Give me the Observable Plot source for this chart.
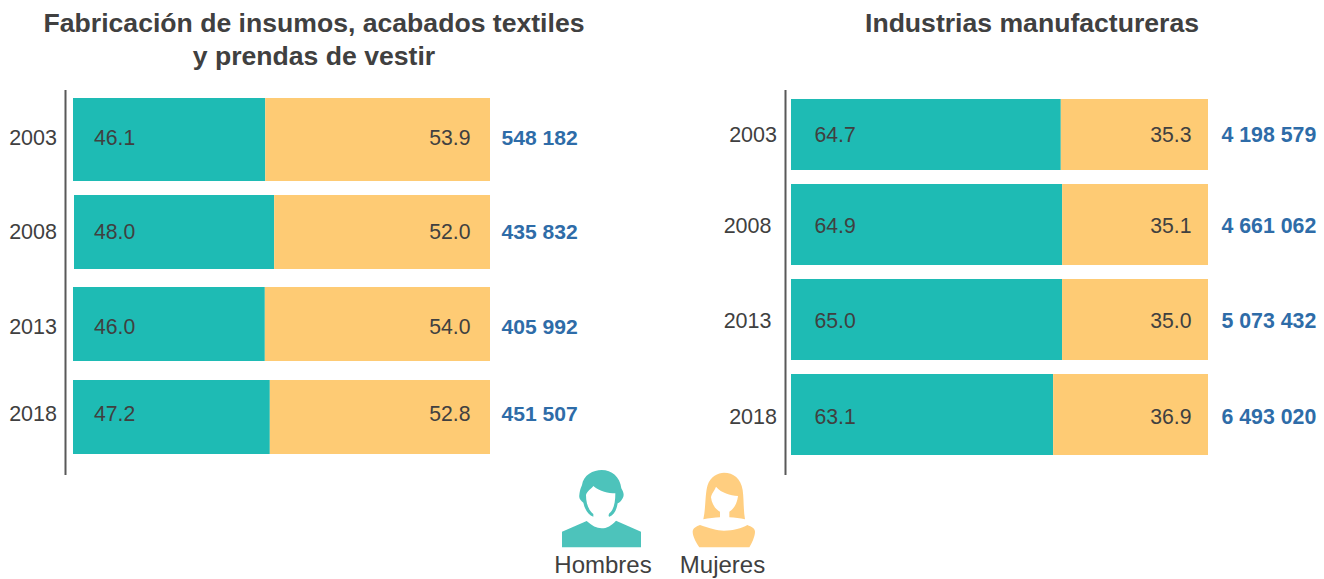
<!DOCTYPE html>
<html lang="es">
<head>
<meta charset="utf-8">
<script src="https://cdn.jsdelivr.net/npm/d3@7"></script>
<script src="https://cdn.jsdelivr.net/npm/@observablehq/plot@0.6"></script>
<style>
  html, body { margin: 0; padding: 0; background: #fff; overflow: hidden; }
  #page { position: relative; width: 1324px; height: 579px; font-family: "Liberation Sans", Arial, sans-serif; color: #404040; }
  #page > svg, #page > figure { position: absolute; top: 0; margin: 0; }
  .title { position: absolute; font-weight: bold; font-size: 26.6px; line-height: 33px; text-align: center; white-space: nowrap; transform: translateX(-50%); }
  .legend-label { position: absolute; top: 551px; font-size: 24px; line-height: 28px; transform: translateX(-50%); white-space: nowrap; }
</style>
</head>
<body>
<div id="page">
  <div class="title" style="left:314px;top:7px">Fabricación de insumos, acabados textiles<br>y prendas de vestir</div>
  <div class="title" style="left:1032px;top:7px">Industrias manufactureras</div>
  <svg id="icons" style="left:540px;top:460px" width="240" height="119" viewBox="0 0 720 357">
    <g fill="#4DC3BB">
      <path d="M118 105C120 90 122 85 126 75C130 45 160 30 185 30C215 30 240 50 244 85C250 95 254 105 248 115C243 125 238 128 233 130C230 150 222 165 208 170C205 168 205 165 208 160C222 150 226 125 226 100C205 100 180 95 160 78C155 85 140 95 138 105C138 130 145 150 160 162L160 170C145 165 135 150 130 128C122 122 116 115 118 105Z"/>
      <path d="M66 215L140 183C155 197 170 205 185 205C200 205 215 197 228 182L303 215L303 262L66 262Z"/>
    </g>
    <g fill="#FFCE80">
      <path d="M490 178C498 140 495 100 503 75C510 50 535 38 552 38C580 38 603 55 608 90C612 120 610 150 615 178C600 175 585 172 568 172L568 155C585 145 592 125 594 108C570 105 545 100 528 80C522 95 515 100 513 112C515 130 525 148 540 155L540 172C525 172 505 175 490 178Z"/>
      <path d="M480 195C510 205 530 212 552 212C580 212 605 205 622 195C635 200 645 205 645 215C645 230 635 250 628 262L478 262C470 250 458 230 458 215C458 205 470 198 480 195Z"/>
    </g>
  </svg>
  <div class="legend-label" style="left:603px">Hombres</div>
  <div class="legend-label" style="left:722.5px">Mujeres</div>
</div>
<script>
const years = ["2003", "2008", "2013", "2018"];
const sexos = ["Hombres", "Mujeres"];

const textilHombres = [46.1, 48.0, 46.0, 47.2];
const textilMujeres = [53.9, 52.0, 54.0, 52.8];
const textilTotales = ["548 182", "435 832", "405 992", "451 507"];

const manufHombres = [64.7, 64.9, 65.0, 63.1];
const manufMujeres = [35.3, 35.1, 35.0, 36.9];
const manufTotales = ["4 198 579", "4 661 062", "5 073 432", "6 493 020"];

const TEAL = "#1EBBB4", AMBER = "#FECB74", INK = "#404040", BLUE = "#2E6CA8";

function panel({hombres, mujeres, totales, width, marginLeft, marginRight, yInsetTop, yInsetBottom, ruleDx, totalSize, rows}) {
  const wide = years.map((year, i) => ({year, h: hombres[i], m: mujeres[i], total: totales[i]}));
  const marks = [];
  years.forEach((year, i) => {
    const r = rows[i];
    const row = wide.filter(d => d.year === year);
    marks.push(
      Plot.barX(row, {
        x1: () => 0, x2: "h", y: "year", fill: () => sexos[0],
        insetTop: r.top, insetBottom: r.bottom,
        insetLeft: r.left || 0, insetRight: -(r.shift || 0)
      }),
      Plot.barX(row, {
        x1: "h", x2: d => d.h + d.m, y: "year", fill: () => sexos[1],
        insetTop: r.top, insetBottom: r.bottom,
        insetLeft: r.shift || 0
      }),
      Plot.text(row, {
        x: () => 0, y: "year", text: d => d.h.toFixed(1), textAnchor: "start",
        dx: r.hDx, dy: r.dy, fill: INK, fontSize: 21.2
      }),
      Plot.text(row, {
        x: d => d.h + d.m, y: "year", text: d => d.m.toFixed(1), textAnchor: "end",
        dx: r.mDx, dy: r.dy, fill: INK, fontSize: 21.2
      }),
      Plot.text(row, {
        x: d => d.h + d.m, y: "year", text: "total", textAnchor: "start",
        dx: r.tDx, dy: r.dy, fill: BLUE, fontWeight: "bold", fontSize: totalSize
      }),
      Plot.axisY({
        ticks: [year], tickSize: 0, tickPadding: r.pad, dy: r.dy,
        label: null, fill: INK, fontSize: 21.5
      })
    );
  });
  marks.push(Plot.ruleX([0], {dx: ruleDx, stroke: "#595959", strokeWidth: 2}));
  return Plot.plot({
    width, height: 475,
    marginTop: 90, marginBottom: 0, marginLeft, marginRight,
    style: {background: "transparent", fontFamily: '"Liberation Sans", Arial, sans-serif', fontSize: "21px", overflow: "visible"},
    x: {domain: [0, 100], axis: null, round: false},
    y: {domain: years, type: "band", padding: 0, round: false, insetTop: yInsetTop, insetBottom: yInsetBottom, axis: null, label: null},
    color: {domain: sexos, range: [TEAL, AMBER]},
    marks
  });
}

const leftRows = [
  {top: 5, bottom: 4.5, dy: -1.5, pad: 16.5, hDx: 20.5, mDx: -20, tDx: 11},
  {top: 9.5, bottom: 9, dy: 0, pad: 16.5, hDx: 20.5, mDx: -20, tDx: 11, left: 1, shift: 1},
  {top: 9, bottom: 9.5, dy: 2.5, pad: 16.5, hDx: 20.5, mDx: -20, tDx: 11},
  {top: 9.5, bottom: 9, dy: -3, pad: 16.5, hDx: 20.5, mDx: -20, tDx: 11}
];

const rightRows = [
  {top: 9, bottom: 12, dy: -1, pad: 14.5, hDx: 23, mDx: -17, tDx: 13},
  {top: 2, bottom: 9, dy: -2.3, pad: 20, hDx: 23, mDx: -17, tDx: 13, shift: 0.5},
  {top: 5, bottom: 6, dy: 0.7, pad: 20, hDx: 23, mDx: -17, tDx: 13},
  {top: 8, bottom: 3, dy: 4.7, pad: 14.5, hDx: 23, mDx: -17, tDx: 13, shift: -1}
];

const page = document.getElementById("page");

const left = panel({
  hombres: textilHombres, mujeres: textilMujeres, totales: textilTotales,
  width: 662, marginLeft: 73, marginRight: 172, yInsetTop: 3, yInsetBottom: 12, ruleDx: -8, totalSize: 21.1, rows: leftRows
});
left.style.left = "0px";
page.appendChild(left);

const right = panel({
  hombres: manufHombres, mujeres: manufMujeres, totales: manufTotales,
  width: 662, marginLeft: 129, marginRight: 116, yInsetTop: 0, yInsetBottom: 17, ruleDx: -6, totalSize: 21.3, rows: rightRows
});
right.style.left = "662px";
page.appendChild(right);
</script>
</body>
</html>
